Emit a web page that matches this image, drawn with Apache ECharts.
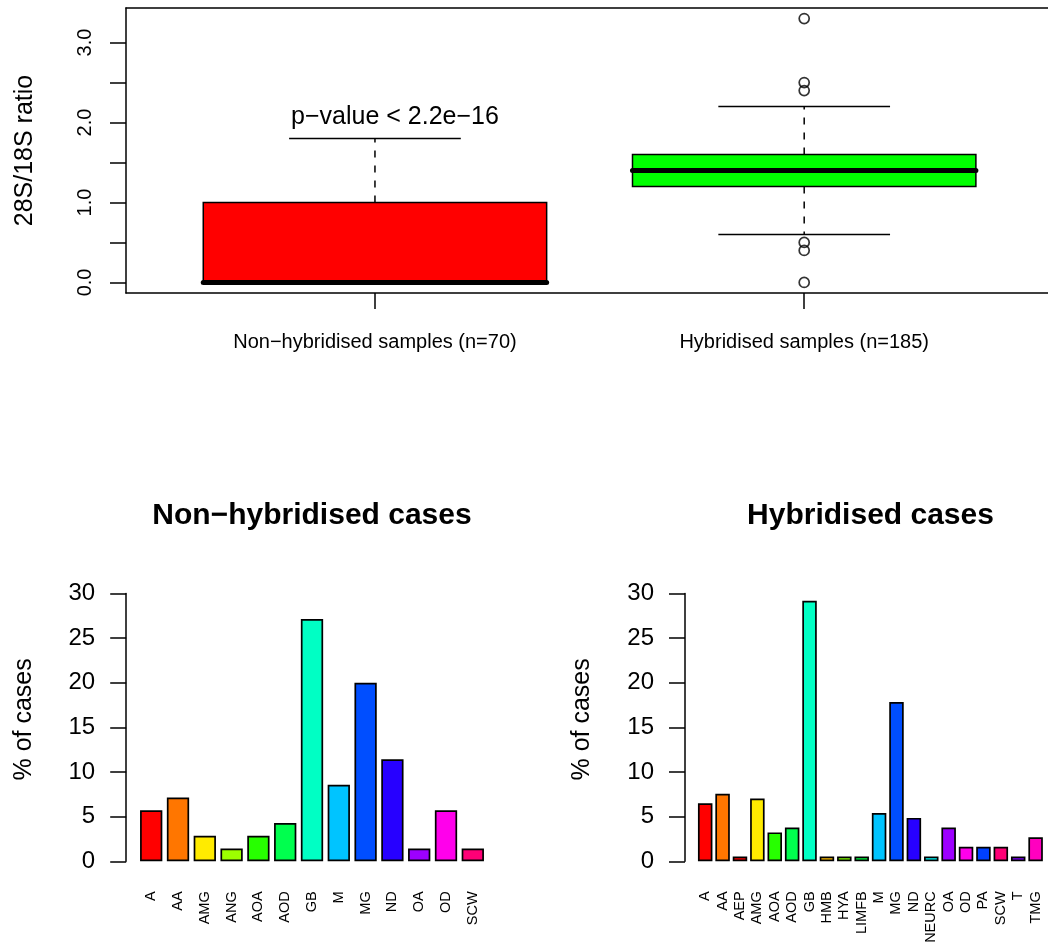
<!DOCTYPE html>
<html>
<head>
<meta charset="utf-8">
<title>28S/18S ratio and diagnoses</title>
<script src="https://cdn.jsdelivr.net/npm/echarts@6/dist/echarts.min.js"></script>
<style>
  html, body { margin: 0; padding: 0; background: #fff; }
  #chart { width: 1048px; height: 949px; }
</style>
</head>
<body>
<div id="chart"></div>
<script>
// ---- 28S/18S ratio per sample group ----
const groupLabels = ['Non\u2212hybridised samples (n=70)', 'Hybridised samples (n=185)'];
// lower whisker, Q1, median, Q3, upper whisker
const nonHybStats = [0.0, 0.0, 0.0, 1.0, 1.8];
const hybStats = [0.6, 1.2, 1.4, 1.6, 2.2];
const nonHybOutliers = [];
const hybOutliers = [3.3, 2.5, 2.4, 0.5, 0.4, 0.0];
const ratioTicks = [0, 0.5, 1, 1.5, 2, 2.5, 3];
const ratioTickLabels = [0, 1, 2, 3];
const pValueText = 'p\u2212value < 2.2e\u221216';

// ---- diagnoses, % of cases ----
const nonHybCats = ['A', 'AA', 'AMG', 'ANG', 'AOA', 'AOD', 'GB', 'M', 'MG', 'ND', 'OA', 'OD', 'SCW'];
const nonHybPct = [5.71, 7.14, 2.86, 1.43, 2.86, 4.29, 27.14, 8.57, 20.00, 11.43, 1.43, 5.71, 1.43];
const hybCats = ['A', 'AA', 'AEP', 'AMG', 'AOA', 'AOD', 'GB', 'HMB', 'HYA', 'LIMFB', 'M', 'MG', 'ND', 'NEURC', 'OA', 'OD', 'PA', 'SCW', 'T', 'TMG'];
const hybPct = [6.49, 7.57, 0.54, 7.03, 3.24, 3.78, 29.19, 0.54, 0.54, 0.54, 5.41, 17.84, 4.86, 0.54, 3.78, 1.62, 1.62, 1.62, 0.54, 2.70];

// ---- colours ----
const boxColors = ['#FF0000', '#00FF00'];
const nonHybColors = ['#FF0000', '#FF7600', '#FFEB00', '#9DFF00', '#27FF00', '#00FF4E', '#00FFC4',
  '#00C4FF', '#004EFF', '#2700FF', '#9D00FF', '#FF00EB', '#FF0076'];
const hybColors = ['#FF0000', '#FF7600', '#FF0000', '#FFEB00', '#27FF00', '#00FF4E', '#00FFC4',
  '#FFBF00', '#80FF00', '#00FF40', '#00C4FF', '#004EFF', '#2700FF', '#00FFFF', '#9D00FF',
  '#FF00EB', '#0040FF', '#FF0076', '#8000FF', '#FF00BF'];

const FONT = 'Liberation Sans, Arial, Helvetica, sans-serif';
const chart = echarts.init(document.getElementById('chart'), null, { renderer: 'canvas' });

const boxData = [[1].concat(nonHybStats), [2].concat(hybStats)];
const outlierData = [];
nonHybOutliers.forEach(v => outlierData.push([1, v]));
hybOutliers.forEach(v => outlierData.push([2, v]));

function seg(p1, p2, style) {
  return {
    type: 'line',
    shape: { x1: p1[0], y1: p1[1], x2: p2[0], y2: p2[1] },
    style: Object.assign({ stroke: '#000', lineWidth: 1.5 }, style)
  };
}

// box, dashed whiskers with caps, and a heavy median bar
function renderBox(params, api) {
  const x = api.value(0);
  const lo = api.value(1), q1 = api.value(2), md = api.value(3), q3 = api.value(4), hi = api.value(5);
  const c = (a, b) => api.coord([a, b]);
  const tl = c(x - 0.4, q3), br = c(x + 0.4, q1);
  return {
    type: 'group',
    children: [
      seg(c(x, q3), c(x, hi), { lineDash: [7, 8] }),
      seg(c(x, q1), c(x, lo), { lineDash: [7, 8] }),
      seg(c(x - 0.2, hi), c(x + 0.2, hi), {}),
      seg(c(x - 0.2, lo), c(x + 0.2, lo), {}),
      {
        type: 'rect',
        shape: { x: tl[0], y: tl[1], width: br[0] - tl[0], height: br[1] - tl[1] },
        style: { fill: boxColors[params.dataIndex], stroke: '#000', lineWidth: 1.5 }
      },
      seg(c(x - 0.4, md), c(x + 0.4, md), { lineWidth: 5, lineCap: 'round' })
    ]
  };
}

function barYAxis(gridIndex, offset) {
  return {
    type: 'value', gridIndex: gridIndex, min: 0, max: 30, interval: 5, offset: offset,
    axisLine: { show: true, lineStyle: { color: '#000', width: 1.5 } },
    axisTick: { show: true, length: 16, lineStyle: { color: '#000', width: 1.5 } },
    axisLabel: { fontSize: 24, color: '#000', margin: 31, fontFamily: FONT },
    splitLine: { show: false },
    name: '% of cases', nameLocation: 'middle', nameGap: 90,
    nameTextStyle: { fontSize: 25, color: '#000', fontFamily: FONT, padding: [0, 0, 0, 16] }
  };
}

function barXAxis(gridIndex, cats) {
  return {
    type: 'category', gridIndex: gridIndex, data: cats,
    axisLine: { show: false }, axisTick: { show: false },
    axisLabel: { rotate: 90, interval: 0, fontSize: 14.5, color: '#000', margin: 30, fontFamily: FONT }
  };
}

const frameLine = { show: true, onZero: false, lineStyle: { color: '#000', width: 1.5 } };

const option = {
  backgroundColor: '#fff',
  animation: false,
  textStyle: { fontFamily: FONT, color: '#000' },
  title: [
    { text: 'Non\u2212hybridised cases', left: 312, top: 501, textAlign: 'center', padding: 0,
      textStyle: { fontSize: 30, fontWeight: 'bold', color: '#000', fontFamily: FONT } },
    { text: 'Hybridised cases', left: 870.5, top: 501, textAlign: 'center', padding: 0,
      textStyle: { fontSize: 30, fontWeight: 'bold', color: '#000', fontFamily: FONT } }
  ],
  grid: [
    { left: 126, top: 8, width: 922, height: 285 },
    { left: 137.8, top: 593.5, width: 348.4, height: 267.8 },
    { left: 696.5, top: 593.5, width: 347.8, height: 267.8 }
  ],
  xAxis: [
    {
      type: 'value', gridIndex: 0, position: 'bottom', min: 0.42, max: 2.568,
      axisLine: frameLine, splitLine: { show: false },
      axisTick: { show: true, customValues: [1, 2], length: 16, lineStyle: { color: '#000', width: 1.5 } },
      axisLabel: { customValues: [1, 2], formatter: v => groupLabels[Math.round(v) - 1],
        fontSize: 20, color: '#000', margin: 39, fontFamily: FONT }
    },
    {
      // top edge of the frame
      type: 'value', gridIndex: 0, position: 'top', min: 0.42, max: 2.568,
      axisLine: frameLine, axisTick: { show: false }, axisLabel: { show: false }, splitLine: { show: false }
    },
    barXAxis(1, nonHybCats),
    barXAxis(2, hybCats)
  ],
  yAxis: [
    {
      type: 'value', gridIndex: 0, min: -0.132, max: 3.432,
      axisLine: frameLine, splitLine: { show: false },
      axisTick: { show: true, customValues: ratioTicks, length: 16, lineStyle: { color: '#000', width: 1.5 } },
      axisLabel: { customValues: ratioTickLabels, formatter: v => v.toFixed(1), rotate: 90,
        fontSize: 20, color: '#000', margin: 31, fontFamily: FONT },
      name: '28S/18S ratio', nameLocation: 'middle', nameGap: 88,
      nameTextStyle: { fontSize: 25, color: '#000', fontFamily: FONT }
    },
    barYAxis(1, 11.6),
    barYAxis(2, 11.5)
  ],
  graphic: [
    { type: 'text', x: 395, y: 117,
      style: { text: pValueText, fontSize: 25, fill: '#000', fontFamily: FONT,
        textAlign: 'center', textVerticalAlign: 'middle' } }
  ],
  series: [
    { type: 'custom', xAxisIndex: 0, yAxisIndex: 0, renderItem: renderBox, data: boxData,
      encode: { x: 0, y: [1, 2, 3, 4, 5] } },
    { type: 'scatter', xAxisIndex: 0, yAxisIndex: 0, data: outlierData, symbol: 'circle', symbolSize: 10,
      itemStyle: { color: 'rgba(0,0,0,0)', borderColor: '#000', borderWidth: 1.7 } },
    { type: 'bar', xAxisIndex: 2, yAxisIndex: 1, barWidth: 22.3,
      data: nonHybPct.map((v, i) => ({ value: v, itemStyle: { color: nonHybColors[i] } })),
      itemStyle: { borderColor: '#000', borderWidth: 1.7 } },
    { type: 'bar', xAxisIndex: 3, yAxisIndex: 2, barWidth: 14.5,
      data: hybPct.map((v, i) => ({ value: v, itemStyle: { color: hybColors[i] } })),
      itemStyle: { borderColor: '#000', borderWidth: 1.7 } }
  ]
};

chart.setOption(option);
</script>
</body>
</html>
